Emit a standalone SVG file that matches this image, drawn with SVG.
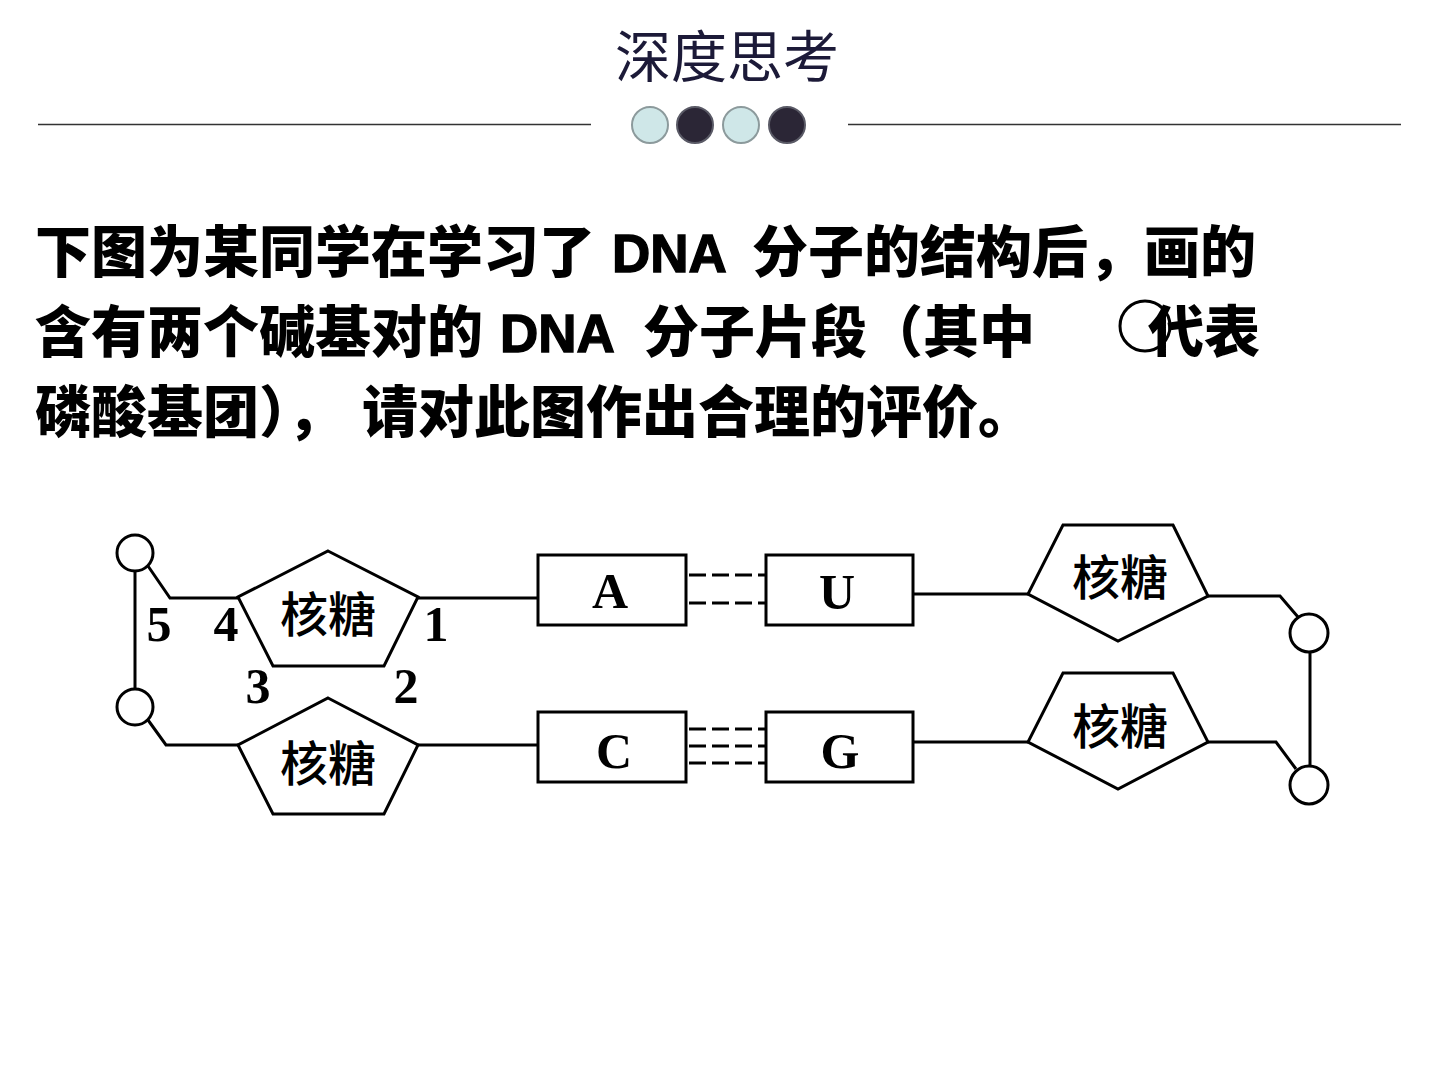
<svg xmlns="http://www.w3.org/2000/svg" width="1440" height="1080" viewBox="0 0 1440 1080">
  <style>
    .title { font-family: "Noto Sans CJK SC", sans-serif; font-size: 56px; fill: #1c1a38; }
    .body { font-family: "Noto Sans CJK SC", sans-serif; font-size: 56px; font-weight: 900; fill: #000; }
    .latin { font-family: "Liberation Sans", "Noto Sans CJK SC", sans-serif; font-size: 53px; font-weight: 700; stroke: #000; stroke-width: 1.4; }
    .rule { stroke: #333; stroke-width: 1.5; }
    .dot-l { fill: #cfe7e8; stroke: #8c9a9c; stroke-width: 2; }
    .dot-d { fill: #2b2636; stroke: #5a5a66; stroke-width: 2; }
    .shape { fill: #fff; stroke: #000; stroke-width: 3; stroke-linejoin: miter; }
    .link { fill: none; stroke: #000; stroke-width: 3; }
    .hbond { fill: none; stroke: #000; stroke-width: 3; stroke-dasharray: 17 6; }
    .sugar { font-family: "Noto Sans CJK SC", sans-serif; font-size: 48px; font-weight: 500; text-anchor: middle; fill: #000; }
    .base { font-family: "Liberation Serif", serif; font-size: 50px; font-weight: 700; text-anchor: middle; fill: #000; }
    .num { font-family: "Liberation Serif", serif; font-size: 50px; font-weight: 700; text-anchor: middle; fill: #000; }
  </style>

  <!-- heading -->
  <text class="title" x="727" y="77" text-anchor="middle">深度思考</text>
  <line class="rule" x1="38" y1="124.5" x2="591" y2="124.5"/>
  <line class="rule" x1="848" y1="124.5" x2="1401" y2="124.5"/>
  <circle class="dot-l" cx="650" cy="125" r="18"/>
  <circle class="dot-d" cx="695" cy="125" r="18"/>
  <circle class="dot-l" cx="741" cy="125" r="18"/>
  <circle class="dot-d" cx="787" cy="125" r="18"/>

  <!-- question text -->
  <text class="body" x="35" y="272">下图为某同学在学习了<tspan class="latin" x="612">DNA</tspan><tspan x="752">分子的结构后，画的</tspan></text>
  <text class="body" x="35" y="352">含有两个碱基对的<tspan class="latin" x="500">DNA</tspan><tspan x="643">分子片段（其中</tspan><tspan x="1148">代表</tspan></text>
  <circle cx="1145" cy="326" r="25" fill="none" stroke="#000" stroke-width="3"/>
  <text class="body" x="35" y="432">磷酸基团），<tspan x="362">请对此图作出合理的评价。</tspan></text>

  <!-- connectors -->
  <g id="connectors">
    <!-- left strand backbone -->
    <line class="link" x1="135" y1="571" x2="135" y2="689"/>
    <polyline class="link" points="148,566 170,598 238,598"/>
    <polyline class="link" points="148,720 166,745 238,745"/>
    <line class="link" x1="418" y1="598" x2="538" y2="598"/>
    <line class="link" x1="418" y1="745" x2="538" y2="745"/>
    <!-- hydrogen bonds -->
    <line class="hbond" x1="689" y1="575" x2="766" y2="575"/>
    <line class="hbond" x1="689" y1="603" x2="766" y2="603"/>
    <line class="hbond" x1="689" y1="729" x2="766" y2="729"/>
    <line class="hbond" x1="689" y1="746" x2="766" y2="746"/>
    <line class="hbond" x1="689" y1="763" x2="766" y2="763"/>
    <!-- right strand backbone -->
    <line class="link" x1="913" y1="594" x2="1028" y2="594"/>
    <line class="link" x1="913" y1="742" x2="1028" y2="742"/>
    <polyline class="link" points="1208,596 1280,596 1298,617"/>
    <polyline class="link" points="1208,742 1276,742 1296,769"/>
    <line class="link" x1="1310" y1="652" x2="1310" y2="765"/>
  </g>

  <!-- phosphate groups -->
  <g id="phosphate-left-top"><circle class="shape" cx="135" cy="553" r="18"/></g>
  <g id="phosphate-left-bottom"><circle class="shape" cx="135" cy="707" r="18"/></g>
  <g id="phosphate-right-top"><circle class="shape" cx="1309" cy="633" r="19"/></g>
  <g id="phosphate-right-bottom"><circle class="shape" cx="1309" cy="785" r="19"/></g>

  <!-- sugars, left strand -->
  <g id="sugar-left-top">
    <polygon class="shape" points="328,551 418,597 384,666 273,666 238,597"/>
    <text class="sugar" x="328" y="632">核糖</text>
  </g>
  <g id="sugar-left-bottom">
    <polygon class="shape" points="328,698 418,745 384,814 273,814 238,745"/>
    <text class="sugar" x="328" y="781">核糖</text>
  </g>

  <!-- carbon numbering -->
  <g id="numbering">
    <text class="num" x="159" y="641">5</text>
    <text class="num" x="226" y="641">4</text>
    <text class="num" x="436" y="641">1</text>
    <text class="num" x="258" y="703">3</text>
    <text class="num" x="406" y="703">2</text>
  </g>

  <!-- bases -->
  <g id="base-A">
    <rect class="shape" x="538" y="555" width="148" height="70"/>
    <text class="base" x="610" y="608">A</text>
  </g>
  <g id="base-U">
    <rect class="shape" x="766" y="555" width="147" height="70"/>
    <text class="base" x="837" y="609">U</text>
  </g>
  <g id="base-C">
    <rect class="shape" x="538" y="712" width="148" height="70"/>
    <text class="base" x="614" y="768">C</text>
  </g>
  <g id="base-G">
    <rect class="shape" x="766" y="712" width="147" height="70"/>
    <text class="base" x="840" y="768">G</text>
  </g>

  <!-- sugars, right strand -->
  <g id="sugar-right-top">
    <polygon class="shape" points="1063,525 1173,525 1208,596 1118,641 1028,594"/>
    <text class="sugar" x="1120" y="595">核糖</text>
  </g>
  <g id="sugar-right-bottom">
    <polygon class="shape" points="1063,673 1173,673 1208,742 1118,789 1028,742"/>
    <text class="sugar" x="1120" y="744">核糖</text>
  </g>
</svg>
